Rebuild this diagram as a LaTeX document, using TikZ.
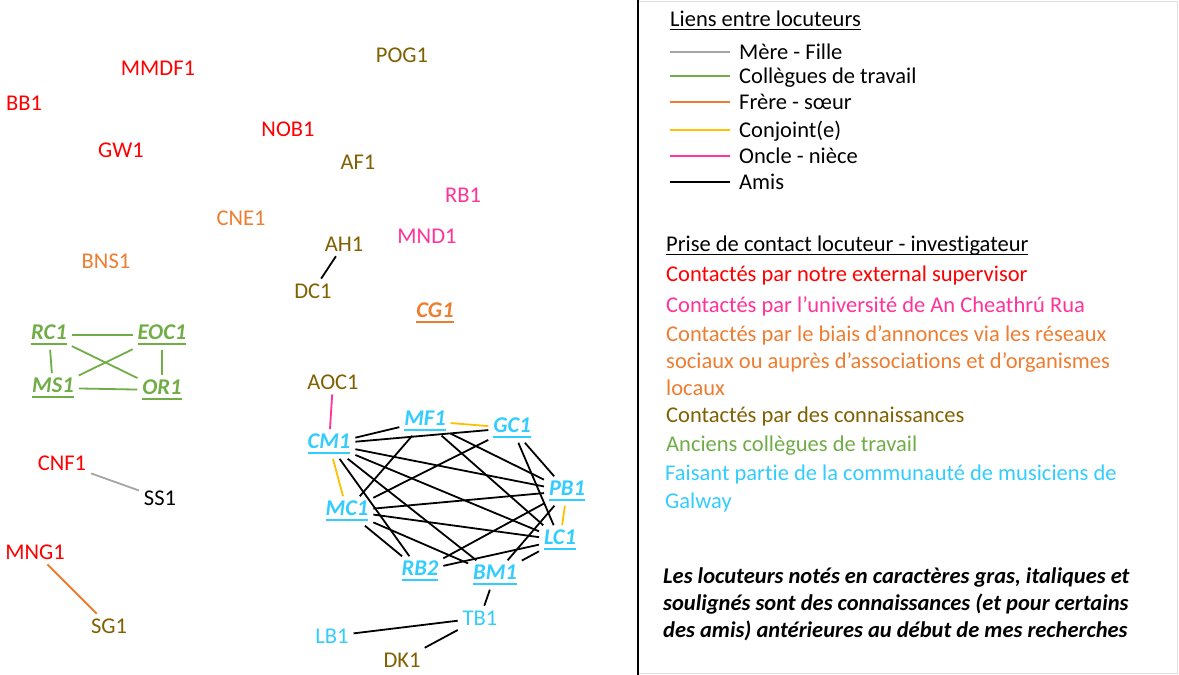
\documentclass[tikz,border=0pt]{standalone}
\usepackage{fontspec}
\setmainfont{Carlito}[Ligatures=NoCommon]
\usetikzlibrary{positioning}

\definecolor{supred}{HTML}{FF0000}
\definecolor{unipink}{HTML}{FF3399}
\definecolor{adorange}{HTML}{ED7D31}
\definecolor{acqbrown}{HTML}{806000}
\definecolor{colgreen}{HTML}{70AD47}
\definecolor{musblue}{HTML}{33CCFF}
\definecolor{spyellow}{HTML}{FFC000}
\definecolor{mgray}{HTML}{A5A5A5}

\newcommand{\known}[1]{{\bfseries\itshape\setbox0\hbox{#1}\rlap{\vrule height -3pt depth 4.8pt width \wd0}\box0}}
\newcommand{\heading}[1]{{\setbox0\hbox{#1}\rlap{\vrule height -2.6pt depth 3.6pt width \wd0}\box0}}

\begin{document}
\begin{tikzpicture}[x=1pt,y=-1pt,
    spk/.style={inner sep=2pt, outer sep=3pt, font=\fontsize{22.5}{27}\selectfont},
    knw/.style={spk, yshift=-3pt},
    lnk/.style={line width=1.8pt},
    legtxt/.style={anchor=base west, inner sep=0pt, font=\fontsize{22.5}{27}\selectfont}]

    \useasboundingbox (0,0) rectangle (1179,675);

    % legend frame
    \draw[black!12, line width=1pt] (638,1) rectangle (1177,673);
    \draw[line width=1.3pt] (638,0) -- (638,675);

    % speakers
    \node[spk, supred] (MMDF1) at (158,68) {MMDF1};
    \node[spk, supred] (BB1) at (24,103) {BB1};
    \node[spk, supred] (GW1) at (121,150) {GW1};
    \node[spk, supred] (NOB1) at (288,129) {NOB1};
    \node[spk, acqbrown] (POG1) at (402,55) {POG1};
    \node[spk, acqbrown] (AF1) at (358,162) {AF1};
    \node[spk, unipink] (RB1) at (463,195) {RB1};
    \node[spk, adorange] (CNE1) at (241,218) {CNE1};
    \node[spk, unipink] (MND1) at (427,236) {MND1};
    \node[spk, acqbrown] (AH1) at (344,244) {AH1};
    \node[spk, adorange] (BNS1) at (106,261) {BNS1};
    \node[spk, acqbrown] (DC1) at (313,291) {DC1};
    \node[knw, adorange] (CG1) at (435,310) {\known{CG1}};

    \node[knw, colgreen] (RC1) at (49,332) {\known{RC1}};
    \node[knw, colgreen] (EOC1) at (162,332) {\known{EOC1}};
    \node[knw, colgreen] (MS1) at (53,385) {\known{MS1}};
    \node[knw, colgreen] (OR1) at (162,387) {\known{OR1}};

    \node[spk, acqbrown] (AOC1) at (333,382) {AOC1};
    \node[spk, supred] (CNF1) at (62,463) {CNF1};
    \node[spk, black] (SS1) at (160,498) {SS1};
    \node[spk, supred] (MNG1) at (35,552) {MNG1};
    \node[spk, acqbrown] (SG1) at (109,626) {SG1};

    \node[knw, musblue] (CM1) at (329,441) {\known{CM1}};
    \node[knw, musblue] (MF1) at (425,418) {\known{MF1}};
    \node[knw, musblue] (GC1) at (512,425) {\known{GC1}};
    \node[knw, musblue] (MC1) at (347,508) {\known{MC1}};
    \node[knw, musblue] (PB1) at (567,488) {\known{PB1}};
    \node[knw, musblue] (LC1) at (560,537) {\known{LC1}};
    \node[knw, musblue] (RB2) at (420,568) {\known{RB2}};
    \node[knw, musblue] (BM1) at (495,572) {\known{BM1}};
    \node[spk, musblue] (TB1) at (480,618) {TB1};
    \node[spk, musblue] (LB1) at (332,636) {LB1};
    \node[spk, acqbrown] (DK1) at (402,660) {DK1};

    % links
    \foreach \a/\b in {RC1/EOC1, RC1/MS1, RC1/OR1, EOC1/MS1, EOC1/OR1, MS1/OR1}
        \draw[lnk, colgreen] (\a) -- (\b);
    \foreach \a/\b in {MF1/GC1, CM1/MC1, PB1/LC1}
        \draw[lnk, spyellow] (\a) -- (\b);
    \draw[lnk, unipink] (AOC1) -- (CM1);
    \draw[lnk, mgray] (CNF1) -- (SS1);
    \draw[lnk, adorange] (MNG1) -- (SG1);
    \foreach \a/\b in {CM1/MF1, CM1/GC1, CM1/PB1, CM1/LC1, CM1/RB2, CM1/BM1,
                       MC1/MF1, MC1/GC1, MC1/PB1, MC1/LC1, MC1/BM1, MC1/RB2,
                       MF1/PB1, MF1/LC1, GC1/LC1, GC1/PB1, PB1/RB2, PB1/BM1,
                       LC1/RB2, LC1/BM1, BM1/TB1, TB1/LB1, TB1/DK1, AH1/DC1}
        \draw[lnk] (\a) -- (\b);

    % legend: links
    \node[legtxt] (linkhead) at (670,26) {\heading{Liens entre locuteurs}};
    \foreach \y/\c/\t [count=\i] in {52/mgray/Mère - Fille, 76/colgreen/Collègues de travail,
                                     102/adorange/Frère - sœur, 130/spyellow/Conjoint(e),
                                     156/unipink/Oncle - nièce, 182/black/Amis} {
        \coordinate (ls\i) at (670,\y);
        \coordinate (le\i) at (730,\y);
        \draw[lnk, \c] (ls\i) -- (le\i);
        \node[legtxt] (lt\i) at (739,\y+7.5) {\t};
    }

    % legend: contact
    \node[legtxt] (contacthead) at (666,251) {\heading{Prise de contact locuteur - investigateur}};
    \node[legtxt, supred] (c1) at (666,281) {Contactés par notre external supervisor};
    \node[legtxt, unipink] (c2) at (666,312) {Contactés par l’université de An Cheathrú Rua};
    \node[legtxt, adorange] (c3) at (666,341) {Contactés par le biais d’annonces via les réseaux};
    \node[legtxt, adorange] (c4) at (666,368) {sociaux ou auprès d’associations et d’organismes};
    \node[legtxt, adorange] (c5) at (666,395) {locaux};
    \node[legtxt, acqbrown] (c6) at (666,422) {Contactés par des connaissances};
    \node[legtxt, colgreen] (c7) at (666,451) {Anciens collègues de travail};
    \node[legtxt, musblue] (c8) at (665,480) {Faisant partie de la communauté de musiciens de};
    \node[legtxt, musblue] (c9) at (665,508) {Galway};

    % note
    \node[legtxt, font=\fontsize{22.5}{27}\selectfont\bfseries\itshape] (n1) at (663,583) {Les locuteurs notés en caractères gras, italiques et};
    \node[legtxt, font=\fontsize{22.5}{27}\selectfont\bfseries\itshape] (n2) at (663,610) {soulignés sont des connaissances (et pour certains};
    \node[legtxt, font=\fontsize{22.5}{27}\selectfont\bfseries\itshape] (n3) at (663,637) {des amis) antérieures au début de mes recherches};
\end{tikzpicture}
\end{document}
